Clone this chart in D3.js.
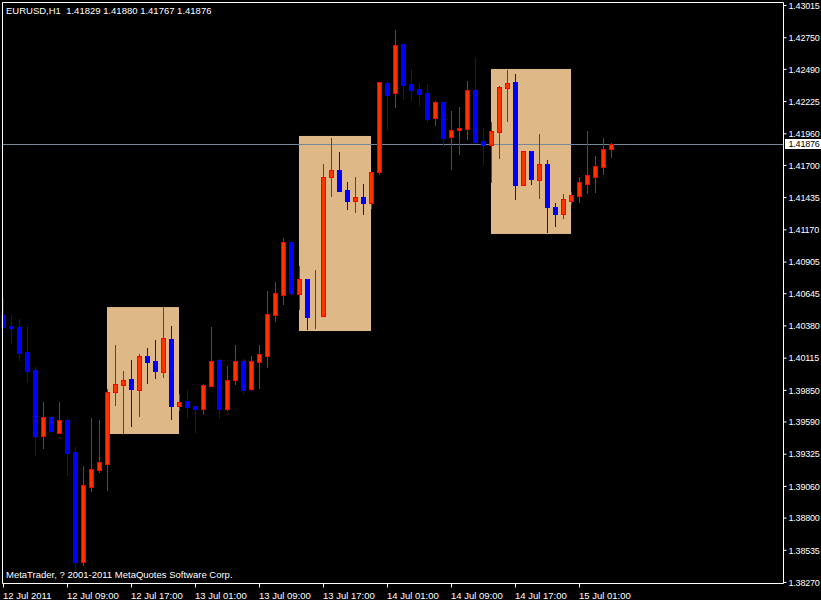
<!DOCTYPE html>
<html>
<head>
<meta charset="utf-8">
<script src="https://cdn.jsdelivr.net/npm/d3@7"></script>
<style>
  html, body { margin: 0; padding: 0; background: #000; }
  svg { display: block; }
  text { font-family: "Liberation Sans", Arial, sans-serif; font-size: 9.5px; fill: #fff; }
  .plabel { font-size: 9px; letter-spacing: -0.2px; }
</style>
</head>
<body>
<svg id="chart" width="821" height="600"></svg>
<script>
// ---- data (EURUSD H1, first bar 12 Jul 2011 01:00) ----
const opens  = [1.40466,1.40375,1.40367,1.40161,1.40013,1.39471,1.39627,1.39495,1.39602,1.39339,
                1.38434,1.39051,1.39191,1.39240,1.39832,1.39890,1.39939,1.39849,1.40129,1.40087,
                1.39997,1.40268,1.39717,1.39758,1.39717,1.39693,1.39882,1.40096,1.39693,1.39931,
                1.40087,1.39857,1.40079,1.40129,1.40466,1.40630,1.41066,1.40638,1.40762,1.40454,
                1.40458,1.41601,1.41658,1.41494,1.41403,1.41436,1.41387,1.41642,1.42374,1.42291,
                1.42694,1.42365,1.42324,1.42291,1.42086,1.42217,1.41930,1.41987,1.41995,1.42316,
                1.41897,1.41864,1.41971,1.42333,1.42382,1.41535,1.41814,1.41576,1.41708,1.41354,
                1.41296,1.41403,1.41444,1.41543,1.41601,1.41683,1.41829];
const highs  = [1.40606,1.40466,1.40433,1.40375,1.40038,1.39750,1.39635,1.39750,1.39619,1.39380,
                1.39224,1.39619,1.39602,1.39857,1.40219,1.40005,1.40096,1.40145,1.40194,1.40260,
                1.40531,1.40375,1.39816,1.39849,1.39717,1.39898,1.40367,1.40104,1.40046,1.40219,
                1.40104,1.40129,1.40219,1.40663,1.40737,1.41099,1.41066,1.40869,1.40762,1.40836,
                1.41708,1.41921,1.41806,1.41559,1.41601,1.41543,1.41642,1.42382,1.42382,1.42809,
                1.42694,1.42489,1.42374,1.42365,1.42226,1.42217,1.42143,1.42176,1.42390,1.42579,
                1.42004,1.42053,1.42349,1.42481,1.42448,1.41814,1.41814,1.41954,1.41740,1.41387,
                1.41461,1.41477,1.41601,1.41979,1.41773,1.41921,1.41880];
const lows   = [1.40367,1.40235,1.40096,1.39915,1.39314,1.39372,1.39512,1.39495,1.39150,1.38369,
                1.38410,1.39018,1.39175,1.39027,1.39726,1.39495,1.39553,1.39635,1.39907,1.39948,
                1.39956,1.39610,1.39684,1.39619,1.39503,1.39652,1.39882,1.39619,1.39684,1.39898,
                1.39824,1.39849,1.39865,1.40038,1.40416,1.40556,1.40638,1.40515,1.40351,1.40359,
                1.40458,1.41444,1.41485,1.41337,1.41313,1.41296,1.41346,1.41625,1.41995,1.42176,
                1.42242,1.42234,1.42193,1.42053,1.42028,1.41872,1.41666,1.41790,1.41913,1.41880,
                1.41708,1.41559,1.41757,1.42061,1.41420,1.41535,1.41543,1.41428,1.41148,1.41198,
                1.41263,1.41379,1.41395,1.41469,1.41477,1.41625,1.41767];
const closes = [1.40367,1.40359,1.40153,1.40005,1.39471,1.39627,1.39512,1.39602,1.39331,1.38434,
                1.39068,1.39199,1.39257,1.39832,1.39898,1.39931,1.39857,1.40129,1.40079,1.40005,
                1.40277,1.39717,1.39750,1.39709,1.39693,1.39890,1.40087,1.39693,1.39931,1.40087,
                1.39849,1.40087,1.40145,1.40474,1.40647,1.41066,1.40647,1.40762,1.40449,1.40458,
                1.41601,1.41658,1.41485,1.41403,1.41436,1.41387,1.41642,1.42382,1.42275,1.42686,
                1.42357,1.42316,1.42283,1.42078,1.42217,1.41921,1.41987,1.42004,1.42316,1.41888,
                1.41864,1.41979,1.42341,1.42374,1.41535,1.41814,1.41584,1.41708,1.41354,1.41296,
                1.41420,1.41453,1.41559,1.41617,1.41691,1.41831,1.41876];

// shaded session boxes (bar index start/end, price high/low)
const boxStart = [13, 37, 61];
const boxEnd   = [22, 46, 71];
const boxHigh  = [1.40531, 1.41938, 1.42489];
const boxLow   = [1.39487, 1.40334, 1.41132];

const priceTicks = [1.43015,1.42750,1.42490,1.42225,1.41960,1.41700,1.41435,1.41170,1.40905,
                    1.40645,1.40380,1.40115,1.39850,1.39590,1.39325,1.39060,1.38800,1.38535,1.38270];
const timeTickIdx = [0, 8, 16, 24, 32, 40, 48, 56, 64, 72];
const timeLabels = ["12 Jul 2011","12 Jul 09:00","12 Jul 17:00","13 Jul 01:00","13 Jul 09:00",
                    "13 Jul 17:00","14 Jul 01:00","14 Jul 09:00","14 Jul 17:00","15 Jul 01:00"];
const symbolTitle = "EURUSD,H1";
const copyright = "MetaTrader, ? 2001-2011 MetaQuotes Software Corp.";
const lastPrice = 1.41876;

// ---- layout ----
const fLeft = 2.5, fTop = 2.5, fRight = 783.5, fBottom = 583.5;
const svg = d3.select("#chart");
svg.append("rect").attr("width", 821).attr("height", 600).attr("fill", "#000");

const x = d3.scaleLinear().domain([0, 97]).range([3.5, 779.5]);
const y = d3.scaleLinear().domain([1.38270, 1.43015]).range([582, 5]);

const bars = opens.map((o, i) => ({ i, o, h: highs[i], l: lows[i], c: closes[i] }));

// boxes
svg.append("g").selectAll("rect").data(boxStart).join("rect")
  .attr("x", (d, k) => x(boxStart[k]) - 0.5)
  .attr("width", (d, k) => x(boxEnd[k]) - x(boxStart[k]))
  .attr("y", (d, k) => y(boxHigh[k]))
  .attr("height", (d, k) => y(boxLow[k]) - y(boxHigh[k]))
  .attr("fill", "#deb887");

// last price line
svg.append("line")
  .attr("x1", fLeft).attr("x2", fRight)
  .attr("y1", Math.round(y(lastPrice)) + 0.5).attr("y2", Math.round(y(lastPrice)) + 0.5)
  .attr("stroke", "#778899").attr("stroke-width", 1);

// candles
const cg = svg.append("g");
bars.forEach(b => {
  const up = b.c >= b.o;
  const col = up ? "#ff0000" : "#0000ff";
  const cx = Math.floor(x(b.i));
  const yh = Math.round(y(b.h)), yl = Math.round(y(b.l));
  cg.append("rect").attr("x", cx).attr("width", 1)
    .attr("y", yh).attr("height", Math.max(1, yl - yh + 1)).attr("fill", col);
  const yt = Math.round(y(Math.max(b.o, b.c))), yb = Math.round(y(Math.min(b.o, b.c)));
  if (up) {
    cg.append("rect").attr("x", cx - 2 + 0.5).attr("width", 4)
      .attr("y", yt + 0.5).attr("height", Math.max(0, yb - yt))
      .attr("fill", "#ff3300").attr("stroke", "#ff0000").attr("stroke-width", 1);
  } else {
    cg.append("rect").attr("x", cx - 2).attr("width", 5)
      .attr("y", yt).attr("height", Math.max(1, yb - yt + 1)).attr("fill", "#0000ff");
  }
});

// frame
svg.append("path")
  .attr("d", `M${fLeft},${fTop}H${fRight}V${fBottom}H${fLeft}Z`)
  .attr("fill", "none").attr("stroke", "#fff").attr("stroke-width", 1);

// price axis
const yAxis = d3.axisRight(y).tickValues(priceTicks).tickFormat(d3.format(".5f"))
  .tickSize(3).tickPadding(2);
const yg = svg.append("g").attr("transform", `translate(${fRight},0)`).call(yAxis);
yg.select(".domain").remove();
yg.selectAll(".tick line").attr("stroke", "#fff");
yg.selectAll(".tick text").attr("class", "plabel").attr("fill", "#fff")
  .attr("font-family", null).attr("font-size", null).attr("dy", "0.36em");

// last price label
const ly = Math.round(y(lastPrice));
svg.append("rect").attr("x", 785).attr("y", ly - 5).attr("width", 36).attr("height", 10).attr("fill", "#fff");
svg.append("text").attr("class", "plabel").attr("x", 788.5).attr("y", ly).attr("dy", "0.36em")
  .style("fill", "#000").text(d3.format(".5f")(lastPrice));

// time axis
const xAxis = d3.axisBottom(x).tickValues(timeTickIdx)
  .tickFormat((d, k) => timeLabels[k]).tickSize(4).tickPadding(3);
const xg = svg.append("g").attr("transform", `translate(-0.5,${fBottom})`).call(xAxis);
xg.select(".domain").remove();
xg.selectAll(".tick line").attr("stroke", "#fff");
xg.selectAll(".tick text").attr("fill", "#fff").attr("font-family", null).attr("font-size", null)
  .attr("text-anchor", "start").attr("dx", -0.5).attr("dy", "0.9em");

// header + footer text
const n = opens.length - 1;
const f5 = d3.format(".5f");
svg.append("text").attr("x", 6).attr("y", 14).style("white-space", "pre")
  .text(`${symbolTitle}  ${f5(opens[n])} ${f5(highs[n])} ${f5(lows[n])} ${f5(closes[n])}`);
svg.append("text").attr("x", 6).attr("y", 578).text(copyright);
</script>
</body>
</html>
